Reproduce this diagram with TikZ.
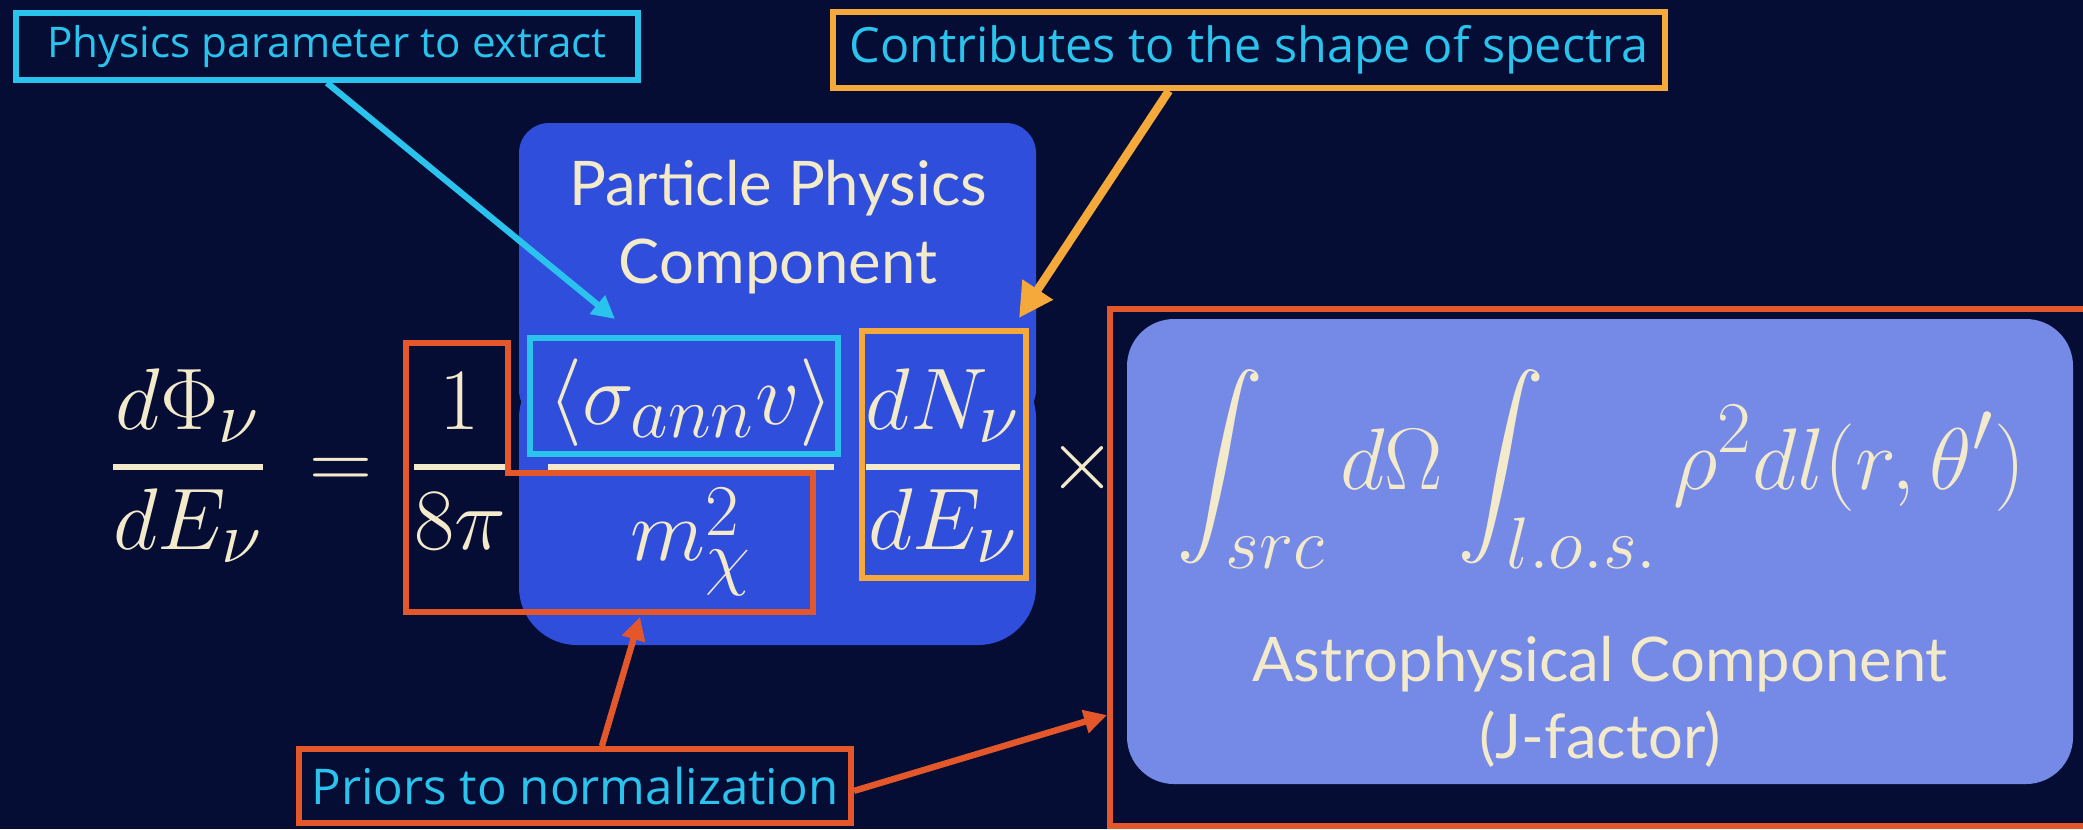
\documentclass[tikz,border=0pt]{standalone}
\usepackage{amsmath}
\usepackage{fontspec}
\usepackage{xcolor}
\usetikzlibrary{arrows.meta,positioning}
\newfontfamily\titlefont{Lato}
\newfontfamily\tagfont{Open Sans}
\definecolor{navy}{RGB}{6,13,52}
\definecolor{ppblue}{RGB}{48,78,220}
\definecolor{apblue}{RGB}{117,137,230}
\definecolor{cream}{RGB}{242,234,202}
\definecolor{cyanln}{RGB}{41,195,238}
\definecolor{orangeln}{RGB}{244,169,58}
\definecolor{redln}{RGB}{228,87,42}
\newcommand{\thickfrac}[2]{\genfrac{}{}{1.7pt}{0}{#1}{#2}}

\begin{document}
\begin{tikzpicture}[x=0.01cm,y=-0.01cm,eqn/.style={text=cream,font=\fontsize{27.3}{33}\selectfont,inner sep=0pt,anchor=base},title/.style={text=cream,font=\titlefont\fontsize{17.5}{22}\selectfont,align=center,inner sep=0pt},tag/.style={draw=#1,line width=1.6pt,text=cyanln,inner sep=0pt},outline/.style={draw=#1,line width=1.7pt},arrow/.style={draw=#1,line width=1.8pt,-{Triangle[length=6.5pt,width=6.5pt]}}]
\useasboundingbox (0,0) rectangle (2083,829);
\fill[navy] (0,0) rectangle (2083,829);
\fill[ppblue,rounded corners=0.3cm] (519,123) rectangle (1036,420);
\fill[ppblue,rounded corners=0.58cm] (519,360) rectangle (1036,645);
\node[title] (pptitle) at (778,227) {Particle Physics\\Component};
\node[outline=redln,minimum width=9.9cm,minimum height=5.17cm] (apframe) at (1605,567.5) {};
\fill[apblue,rounded corners=0.47cm] (1127,319) rectangle (2073,784);
\node[title] (aptitle) at (1600,702) {Astrophysical Component\\(J-factor)};
\node[eqn] (flux) at (188,489) {$\thickfrac{d\Phi_\nu}{dE_\nu}$};
\node[eqn] (eqsign) at (341,489) {$=$};
\node[eqn] (norm) at (460,489) {$\thickfrac{1}{8\pi}$};
\node[eqn] (xsec) at (691,489) {$\thickfrac{\langle\sigma_{ann}v\rangle}{m_\chi^2}$};
\node[eqn] (spec) at (943,489) {$\thickfrac{dN_\nu}{dE_\nu}$};
\node[eqn] (times) at (1083,489) {$\times$};
\node[eqn] (jfac) at (1601,489) {$\displaystyle\int_{src}d\Omega\int_{l.o.s.}\rho^2dl(r,\theta')$};
\node[outline=cyanln,minimum width=3.08cm,minimum height=1.16cm] (sigbox) at (684,396) {};
\node[outline=orangeln,minimum width=1.64cm,minimum height=2.47cm] (dnbox) at (944,454.5) {};
\draw[outline=redln] (406,343) -- (508,343) -- (508,473) -- (813,473) -- (813,612) -- (406,612) -- cycle;
\node[tag=cyanln,minimum width=6.22cm,minimum height=0.67cm,font=\tagfont\fontsize{12}{14}\selectfont] (physlbl) at (327,46.5) {Physics parameter to extract};
\node[tag=orangeln,minimum width=8.32cm,minimum height=0.76cm,font=\tagfont\fontsize{13.8}{16}\selectfont] (speclbl) at (1249,50) {Contributes to the shape of spectra};
\node[tag=redln,minimum width=5.52cm,minimum height=0.74cm,font=\tagfont\fontsize{14}{16}\selectfont] (priorlbl) at (575,786) {Priors to normalization};
\coordinate (sigtip) at (615,319);
\coordinate (dntip) at (1019,318);
\coordinate (mtip) at (640,617);
\coordinate (aptip) at (1107,715);
\draw[arrow=cyanln] (physlbl.south) -- (sigtip);
\draw[arrow=orangeln,line width=2.4pt,-{Triangle[length=9.7pt,width=9.8pt]}] (speclbl.207) -- (dntip);
\draw[arrow=redln] (priorlbl.56) -- (mtip);
\draw[arrow=redln] (priorlbl.-1.5) -- (aptip);
\end{tikzpicture}
\end{document}
